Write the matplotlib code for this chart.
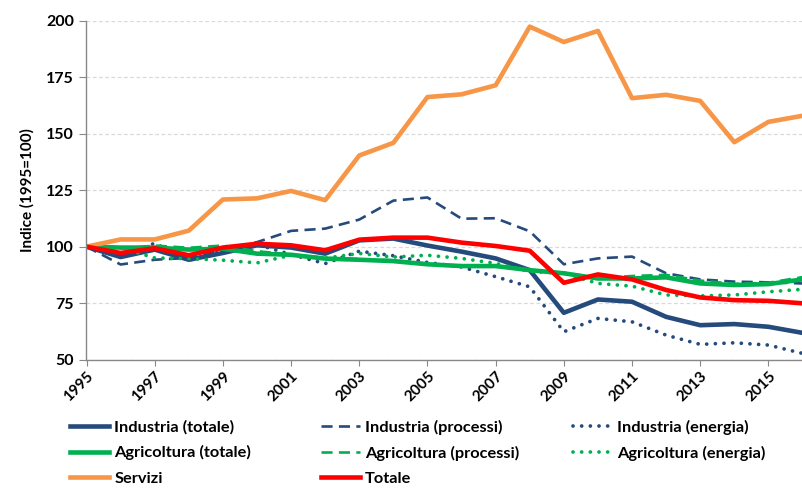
import matplotlib
matplotlib.use("Agg")
import matplotlib.pyplot as plt

years = list(range(1995, 2017))

industria_totale = [100, 95.4, 98.7, 94.2, 97.2, 100.6, 99.6, 96.9, 102.8, 103.6, 100.5, 97.8,
                    94.8, 89.6, 70.7, 76.6, 75.6, 68.9, 65.2, 65.7, 64.5, 61.8]
industria_processi = [100, 92.1, 94.2, 95.0, 98.5, 102.0, 107.0, 108.0, 112.0, 120.4, 121.8, 112.4,
                      112.6, 106.8, 92.2, 94.8, 95.6, 88.2, 85.5, 84.5, 84.2, 83.7]
industria_energia = [100, 96.0, 101.5, 94.0, 98.0, 101.0, 96.5, 92.5, 98.0, 96.0, 93.0, 91.0,
                     86.7, 82.2, 62.3, 68.2, 66.7, 60.8, 56.7, 57.4, 56.4, 52.7]
agricoltura_totale = [100, 99.6, 99.6, 98.7, 99.1, 96.9, 96.4, 94.7, 94.2, 93.6, 92.2, 91.4,
                      91.4, 89.6, 88.2, 85.9, 85.9, 86.4, 83.7, 83.0, 83.4, 85.5]
agricoltura_processi = [100, 99.0, 100.5, 99.5, 100.5, 98.0, 96.5, 95.0, 94.5, 94.0, 92.5, 91.5,
                        91.5, 89.5, 88.5, 86.0, 87.0, 87.5, 85.0, 83.5, 84.0, 86.5]
agricoltura_energia = [100, 99.5, 95.0, 94.7, 94.0, 92.8, 96.2, 94.9, 97.0, 95.4, 96.2, 94.8,
                       92.6, 89.0, 88.2, 83.7, 82.5, 78.6, 78.2, 78.6, 80.0, 81.1]
servizi = [100, 103.2, 103.2, 107.1, 120.9, 121.4, 124.7, 120.6, 140.4, 146.0, 166.3, 167.5,
           171.5, 197.5, 190.7, 195.6, 165.8, 167.3, 164.6, 146.3, 155.3, 158.0]
totale = [100, 97.2, 99.3, 96.2, 99.6, 101.3, 100.6, 98.4, 103.1, 104.0, 104.0, 101.8,
          100.3, 98.2, 84.0, 87.7, 85.5, 80.8, 77.5, 76.3, 76.0, 74.9]

yticks = [50, 75, 100, 125, 150, 175, 200]
xticks = list(range(1995, 2017, 2))

navy = "#254A7C"
green = "#00B050"
orange = "#F79646"
red = "#FF0000"

plt.rcParams['font.family'] = ['Lato', 'DejaVu Sans']
plt.rcParams['font.weight'] = 'bold'

fig = plt.figure(figsize=(8.03, 4.88), dpi=100)
ax = fig.add_axes([86.5 / 803, 1 - 359.5 / 488, (802.5 - 86.5) / 803, (359.5 - 21) / 488])

dash = (4.2, 2.4)
dot = (0, (0.01, 2.3))

h1, = ax.plot(years, industria_totale, color=navy, lw=3.3, label="Industria (totale)")
h2, = ax.plot(years, industria_processi, color=navy, lw=1.9, dashes=dash, label="Industria (processi)")
h3, = ax.plot(years, industria_energia, color=navy, lw=2.7, linestyle=dot,
              dash_capstyle='round', label="Industria (energia)")
h4, = ax.plot(years, agricoltura_totale, color=green, lw=3.3, label="Agricoltura (totale)")
h5, = ax.plot(years, agricoltura_processi, color=green, lw=1.9, dashes=dash, label="Agricoltura (processi)")
h6, = ax.plot(years, agricoltura_energia, color=green, lw=2.7, linestyle=dot,
              dash_capstyle='round', label="Agricoltura (energia)")
h7, = ax.plot(years, servizi, color=orange, lw=3.3, label="Servizi")
h8, = ax.plot(years, totale, color=red, lw=3.3, label="Totale")

ax.set_xlim(1995, 2016)
ax.set_ylim(50, 200)
ax.set_yticks(yticks)
ax.set_xticks(xticks)
ax.set_xticklabels([str(x) for x in xticks], rotation=45, ha='right', rotation_mode='anchor',
                   fontsize=11, fontweight='bold')
ax.set_yticklabels([str(y) for y in yticks], fontsize=11.5, fontweight='bold')
ax.tick_params(axis='y', length=5, color='#888888', pad=4)
ax.tick_params(axis='x', length=4, color='#888888', pad=3)
ax.grid(axis='y', color='#D9D9D9', linestyle=(0, (3, 2)), linewidth=0.9)
ax.set_axisbelow(True)
for s in ['top', 'right']:
    ax.spines[s].set_visible(False)
for s in ['left', 'bottom']:
    ax.spines[s].set_color('#888888')
    ax.spines[s].set_linewidth(1.0)

ax.set_ylabel("Indice (1995=100)", fontsize=11, fontweight='bold', labelpad=8)

cols = [[h1, h4, h7], [h2, h5, h8], [h3, h6]]
xs = [70, 321, 573]
for x0, hs in zip(xs, cols):
    fig.legend(handles=hs, labels=[h.get_label() for h in hs], ncol=1,
               loc='upper left', bbox_to_anchor=(x0 / 803, 1 - 420 / 488), frameon=False,
               handlelength=2.4, handletextpad=0.3, labelspacing=0.66,
               borderaxespad=0, borderpad=0,
               prop={'weight': 'bold', 'size': 11.8})

fig.savefig("out.png", dpi=100)
